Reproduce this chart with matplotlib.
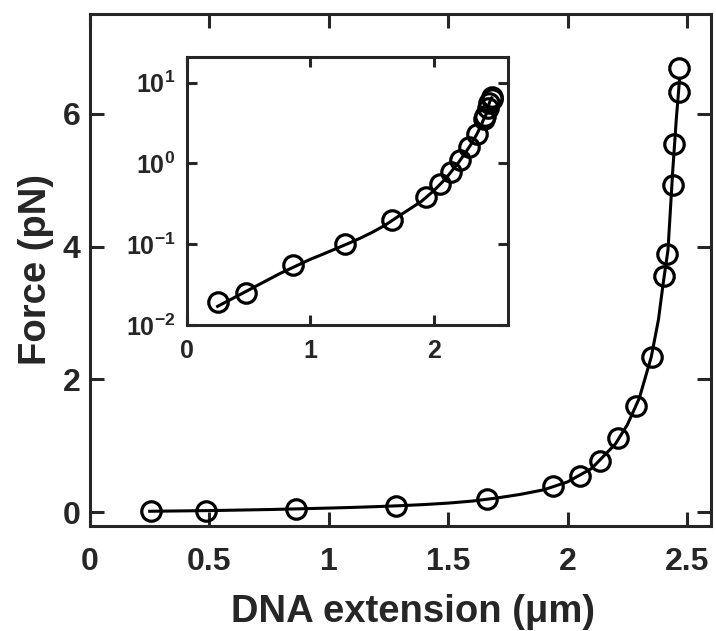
import numpy as np
import matplotlib
matplotlib.use("Agg")
import matplotlib.pyplot as plt
from matplotlib.ticker import FixedLocator, FixedFormatter, NullLocator

plt.rcParams['font.family'] = ['Liberation Sans', 'DejaVu Sans']
plt.rcParams['font.weight'] = 'bold'
plt.rcParams['mathtext.fontset'] = 'custom'
plt.rcParams['mathtext.bf'] = 'Liberation Sans:bold'
plt.rcParams['mathtext.rm'] = 'Liberation Sans:bold'

# measured points (extension um, force pN)
ext = [0.254, 0.484, 0.861, 1.281, 1.662, 1.940, 2.052, 2.136, 2.212, 2.286,
       2.352, 2.405, 2.415, 2.439, 2.447, 2.467, 2.468]
force = [0.019, 0.025, 0.055, 0.10, 0.198, 0.39, 0.55, 0.78, 1.12, 1.60,
         2.34, 3.55, 3.89, 4.92, 5.55, 6.33, 6.68]

# fitted curve
fit_x = [0.25, 0.5, 0.75, 1.0, 1.1, 1.2, 1.3, 1.4, 1.5, 1.6, 1.7, 1.8, 1.9,
         2.0, 2.1, 2.2, 2.25, 2.3, 2.35, 2.38, 2.40, 2.42, 2.44, 2.455, 2.468]
fit_y = [0.017, 0.027, 0.043, 0.065, 0.075, 0.087, 0.101, 0.118, 0.14, 0.17,
         0.215, 0.27, 0.34, 0.46, 0.66, 1.03, 1.32, 1.72, 2.34, 2.9, 3.45,
         3.95, 5.15, 5.93, 6.5]

dark = '#262626'

fig = plt.figure(figsize=(7.16, 6.31), dpi=100)
ax = fig.add_axes([0.1257, 0.1669, 0.8673, 0.8109])
ax.plot(fit_x, fit_y, color='black', lw=2.2, zorder=2)
ax.plot(ext, force, 'o', mfc='none', mec='black', ms=14, mew=2.3, zorder=3)
ax.set_xlim(0, 2.6)
ax.set_ylim(-0.2, 7.5)
ax.set_xticks([0, 0.5, 1, 1.5, 2, 2.5])
ax.set_xticklabels(['0', '0.5', '1', '1.5', '2', '2.5'])
ax.set_yticks([0, 2, 4, 6])
ax.tick_params(direction='in', length=10, width=2.2, color=dark, labelcolor=dark,
               labelsize=23, top=True, right=True)
ax.tick_params(axis='x', pad=15)
ax.tick_params(axis='y', pad=7)
for s in ax.spines.values():
    s.set_linewidth(2.2)
    s.set_color(dark)
ax.set_xlabel('DNA extension (μm)', fontsize=27.5, fontweight='bold', color=dark, labelpad=6)
ax.xaxis.set_label_coords(0.52, -0.133)
ax.set_ylabel('Force (pN)', fontsize=27.5, fontweight='bold', color=dark, labelpad=6)

# inset on log scale
ins = fig.add_axes([0.2607, 0.485, 0.4488, 0.4251])
ins.plot(fit_x, fit_y, color='black', lw=2.2, zorder=2)
ins.plot(ext, force, 'o', mfc='none', mec='black', ms=14, mew=2.3, zorder=3)
ins.set_yscale('log')
ins.set_xlim(0, 2.6)
ins.set_ylim(0.01, 21)
ins.set_xticks([0, 1, 2])
ins.yaxis.set_major_locator(FixedLocator([0.01, 0.1, 1, 10]))
ins.yaxis.set_major_formatter(FixedFormatter([r'$\mathbf{10^{-2}}$', r'$\mathbf{10^{-1}}$',
                                              r'$\mathbf{10^{0}}$', r'$\mathbf{10^{1}}$']))
ins.yaxis.set_minor_locator(NullLocator())
ins.tick_params(direction='in', length=7, width=2.2, color=dark, labelcolor=dark,
                labelsize=18, top=True, right=True)
ins.tick_params(axis='x', pad=10)
ins.tick_params(axis='y', pad=8)
for s in ins.spines.values():
    s.set_linewidth(2.2)
    s.set_color(dark)

fig.savefig('out.png', dpi=100)
